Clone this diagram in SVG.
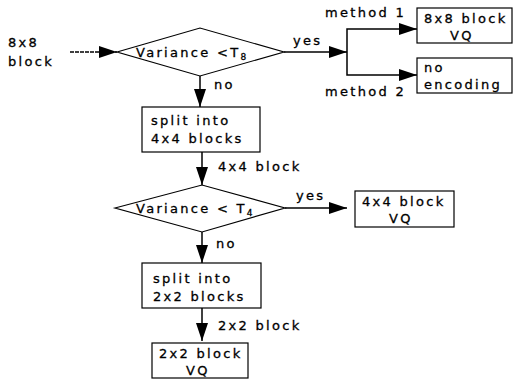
<svg xmlns="http://www.w3.org/2000/svg" width="514" height="380" viewBox="0 0 514 380">
<defs>
<marker id="ah" markerUnits="userSpaceOnUse" markerWidth="18" markerHeight="12" refX="18" refY="6" orient="auto">
<path d="M0,0 L18,6 L0,12 Z" fill="#000"/>
</marker>
<style>
text{font-family:"DejaVu Sans","Liberation Sans",sans-serif;font-size:13px;letter-spacing:2.3px;fill:#000;stroke:#000;stroke-width:0.3}
.s{fill:#fff;stroke:#000;stroke-width:1.2}
.c{fill:none;stroke:#000;stroke-width:1.5}
.a{marker-end:url(#ah)}
</style>
</defs>
<rect width="514" height="380" fill="#fff"/>
<g id="input">
<text x="8" y="47">8x8</text>
<text x="8" y="66">block</text>
</g>
<g id="dec8">
<polygon class="s" points="117,52 200,28 284,52 200,76"/>
<text x="136" y="57">Variance &lt;T<tspan font-size="9" dy="3" letter-spacing="0">8</tspan></text>
</g>
<g id="vq8">
<rect class="s" x="417" y="8" width="95" height="35"/>
<text x="424" y="23">8x8 block</text>
<text x="450" y="40">VQ</text>
</g>
<g id="noenc">
<rect class="s" x="417" y="58" width="95" height="35"/>
<text x="424" y="72">no</text>
<text x="424" y="89">encoding</text>
</g>
<g id="split4">
<rect class="s" x="142" y="107" width="118" height="45"/>
<text x="151" y="125">split into</text>
<text x="151" y="143">4x4 blocks</text>
</g>
<g id="dec4">
<polygon class="s" points="115,208 202,185 285,208 202,232"/>
<text x="136" y="213">Variance &lt; T<tspan font-size="9" dy="3" letter-spacing="0">4</tspan></text>
</g>
<g id="vq4">
<rect class="s" x="355" y="191" width="99" height="36"/>
<text x="362" y="206">4x4 block</text>
<text x="389" y="223">VQ</text>
</g>
<g id="split2">
<rect class="s" x="142" y="263" width="119" height="45"/>
<text x="153" y="283">split into</text>
<text x="153" y="301">2x2 blocks</text>
</g>
<g id="vq2">
<rect class="s" x="152" y="343" width="96" height="35"/>
<text x="159" y="358">2x2 block</text>
<text x="186" y="375">VQ</text>
</g>
<g id="connectors">
<line class="c a" x1="70" y1="52" x2="117" y2="52" stroke-dasharray="4,1"/>
<line class="c a" x1="284" y1="52" x2="347" y2="52"/>
<polyline class="c a" points="347,52 347,29 417,29"/>
<polyline class="c a" points="347,52 347,75 417,75"/>
<line class="c a" x1="200" y1="76" x2="200" y2="107"/>
<line class="c a" x1="202" y1="152" x2="202" y2="185"/>
<line class="c a" x1="285" y1="208" x2="347" y2="208"/>
<line class="c a" x1="202" y1="232" x2="202" y2="263"/>
<line class="c a" x1="202" y1="308" x2="202" y2="341"/>
<text x="293" y="45">yes</text>
<text x="325" y="17">method 1</text>
<text x="325" y="96">method 2</text>
<text x="214" y="89">no</text>
<text x="218" y="171">4x4 block</text>
<text x="296" y="200">yes</text>
<text x="216" y="248">no</text>
<text x="218" y="330">2x2 block</text>
</g>
</svg>
